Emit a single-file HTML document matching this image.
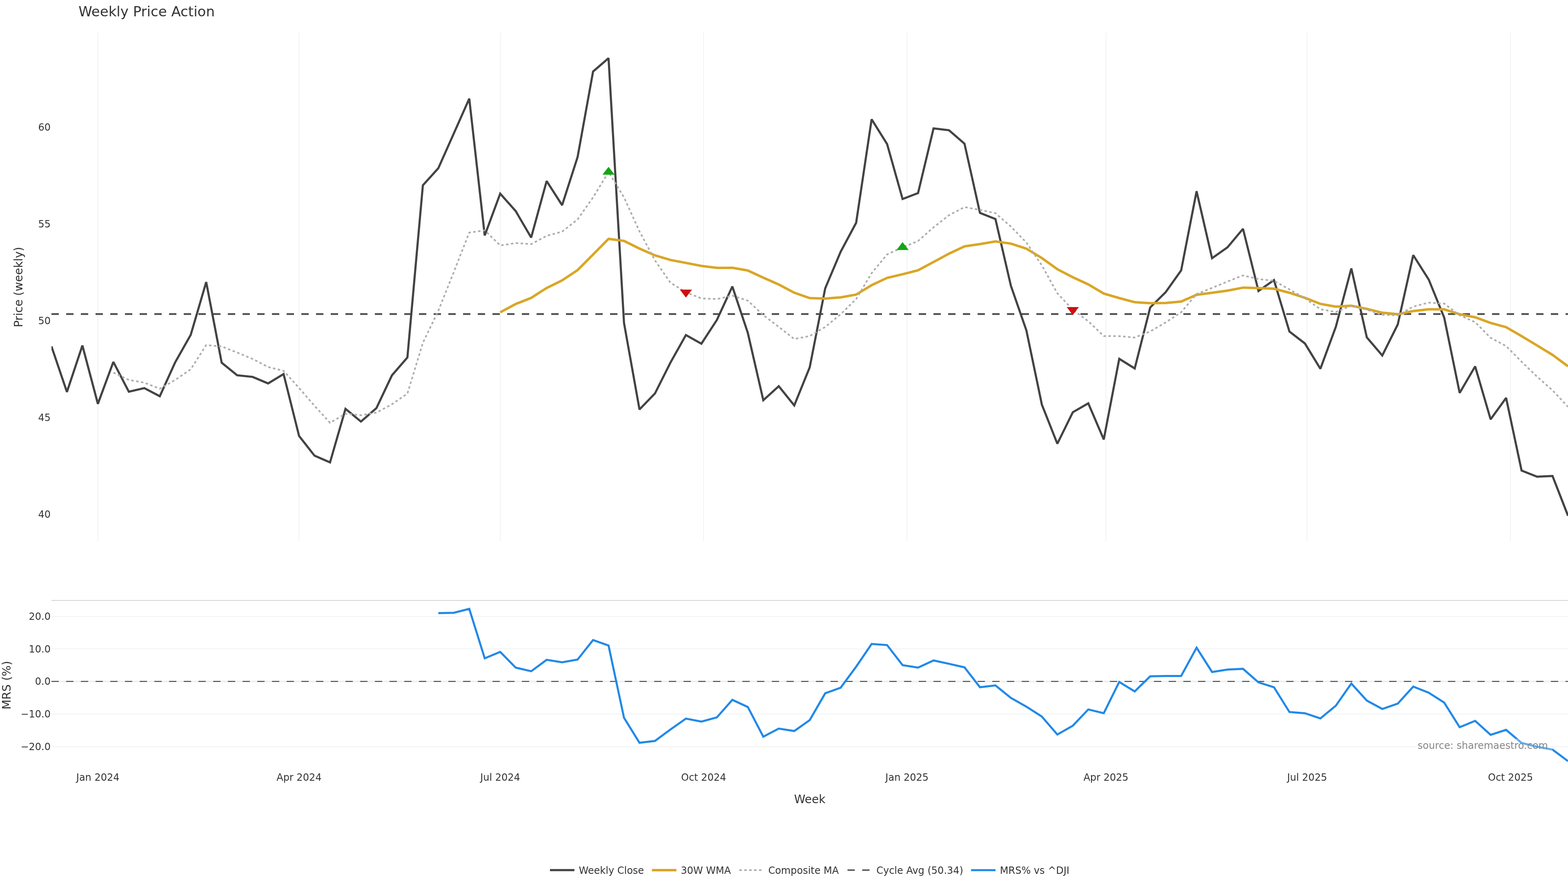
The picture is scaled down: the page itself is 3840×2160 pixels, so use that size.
<!DOCTYPE html>
<html lang="en"><head><meta charset="utf-8"><title>Weekly Price Action</title>
<style>
html,body{margin:0;padding:0;background:#fff;}
body{width:3840px;height:2160px;overflow:hidden;}
svg{display:block;}
text{font-family:"DejaVu Sans", "Liberation Sans", sans-serif;fill:#333333;white-space:pre;}
.ln{fill:none;stroke-linejoin:miter;stroke-miterlimit:2;stroke-linecap:butt;}
.t24{font-size:24px;}.t28{font-size:28px;}.t34{font-size:34px;}
</style></head><body>
<svg width="3840" height="2160" viewBox="0 0 3840 2160">
<rect x="0" y="0" width="3840" height="2160" fill="#ffffff"/>
<g stroke="#f0f1f2" stroke-width="1.8" fill="none">
<line x1="239.65" y1="80" x2="239.65" y2="1325"/>
<line x1="732.35" y1="80" x2="732.35" y2="1325"/>
<line x1="1225.05" y1="80" x2="1225.05" y2="1325"/>
<line x1="1723.1" y1="80" x2="1723.1" y2="1325"/>
<line x1="2221.2" y1="80" x2="2221.2" y2="1325"/>
<line x1="2708.5" y1="80" x2="2708.5" y2="1325"/>
<line x1="3201.1" y1="80" x2="3201.1" y2="1325"/>
<line x1="3699.1" y1="80" x2="3699.1" y2="1325"/>
</g>
<g stroke="#edeff2" fill="none">
<line x1="126" y1="1509.55" x2="3840" y2="1509.55" stroke-width="1.8"/>
<line x1="126" y1="1589.2" x2="3840" y2="1589.2" stroke-width="1.8"/>
<line x1="126" y1="1668.8" x2="3840" y2="1668.8" stroke-width="3.8"/>
<line x1="126" y1="1748.7" x2="3840" y2="1748.7" stroke-width="1.8"/>
<line x1="126" y1="1828.55" x2="3840" y2="1828.55" stroke-width="1.8"/>
</g>
<line x1="126" y1="1470.4" x2="3840" y2="1470.4" stroke="#d3d3d3" stroke-width="2"/>
<line x1="126" y1="769.1" x2="3840" y2="769.1" stroke="#4d4d4d" stroke-width="4.2" stroke-dasharray="18 18"/>
<line x1="126" y1="1668.8" x2="3840" y2="1668.8" stroke="#333333" stroke-width="2" stroke-dasharray="18 18"/>
<svg x="126" y="80" width="3714" height="1245" viewBox="126 80 3714 1245" overflow="hidden">
<path class="ln" d="M126.0,848.2L163.9,959.9L201.8,846.1L239.7,989.0L277.6,886.4L315.5,959.2L353.4,950.4L391.3,970.4L429.2,887.0L467.1,820.0L505.0,690.7L542.9,888.3L580.8,919.0L618.7,923.0L656.6,939.0L694.5,916.1L732.4,1067.6L770.3,1116.0L808.2,1132.5L846.1,1001.3L884.0,1032.4L921.9,999.4L959.8,919.3L997.7,875.5L1035.6,453.8L1073.4,412.0L1111.3,327.0L1149.2,241.6L1187.1,576.7L1225.0,474.2L1262.9,516.9L1300.8,581.7L1338.7,443.4L1376.6,502.5L1414.5,384.6L1452.4,175.2L1490.3,142.5L1528.2,791.0L1566.1,1002.7L1604.0,963.6L1641.9,888.0L1679.8,820.6L1717.7,841.7L1755.6,783.6L1793.5,701.6L1831.4,815.3L1869.3,980.2L1907.2,945.9L1945.1,993.0L1983.0,899.6L2020.9,706.2L2058.8,616.4L2096.7,545.6L2134.6,292.2L2172.5,352.9L2210.4,487.4L2248.3,472.9L2286.2,314.5L2324.1,319.0L2362.0,351.8L2399.9,521.4L2437.8,536.3L2475.7,700.0L2513.6,809.1L2551.5,990.9L2589.4,1086.6L2627.3,1009.6L2665.2,987.7L2703.1,1076.3L2741.0,878.7L2778.9,902.3L2816.8,753.0L2854.7,715.6L2892.6,662.2L2930.4,468.3L2968.3,632.3L3006.2,605.6L3044.1,560.3L3082.0,712.7L3119.9,685.9L3157.8,812.0L3195.7,841.1L3233.6,903.1L3271.5,800.1L3309.4,657.3L3347.3,826.2L3385.2,870.6L3423.1,794.5L3461.0,624.9L3498.9,684.6L3536.8,777.8L3574.7,962.3L3612.6,897.2L3650.5,1026.9L3688.4,974.4L3726.3,1152.3L3764.2,1167.3L3802.1,1165.7L3840.0,1263.0" stroke="#434343" stroke-width="5.2"/>
<path class="ln" d="M1225.0,764.8L1262.9,744.5L1300.8,729.6L1338.7,705.3L1376.6,686.7L1414.5,661.4L1452.4,623.4L1490.3,585.0L1528.2,590.0L1566.1,608.7L1604.0,625.5L1641.9,636.7L1679.8,643.9L1717.7,651.3L1755.6,656.1L1793.5,655.8L1831.4,662.5L1869.3,680.0L1907.2,696.8L1945.1,716.8L1983.0,730.0L2020.9,731.2L2058.8,728.2L2096.7,721.5L2134.6,698.4L2172.5,680.5L2210.4,671.6L2248.3,661.9L2286.2,641.7L2324.1,621.2L2362.0,603.4L2399.9,597.8L2437.8,591.4L2475.7,596.6L2513.6,609.0L2551.5,632.0L2589.4,659.3L2627.3,679.0L2665.2,696.5L2703.1,718.9L2741.0,730.0L2778.9,740.1L2816.8,742.4L2854.7,742.0L2892.6,738.6L2930.4,721.9L2968.3,717.0L3006.2,711.8L3044.1,704.4L3082.0,705.5L3119.9,707.0L3157.8,717.0L3195.7,729.3L3233.6,744.2L3271.5,750.9L3309.4,748.7L3347.3,756.5L3385.2,765.8L3423.1,769.6L3461.0,761.7L3498.9,757.6L3536.8,757.6L3574.7,769.6L3612.6,777.0L3650.5,790.8L3688.4,801.2L3726.3,823.2L3764.2,846.0L3802.1,869.1L3840.0,897.0" stroke="#d9a625" stroke-width="6"/>
<path class="ln" d="M277.6,912.5L315.5,930.4L353.4,937.1L391.3,952.0L429.2,930.4L467.1,904.4L505.0,845.0L542.9,848.4L580.8,863.4L618.7,879.0L656.6,898.8L694.5,908.0L732.4,950.2L770.3,993.8L808.2,1035.5L846.1,1013.2L884.0,1016.9L921.9,1010.6L959.8,990.0L997.7,964.0L1035.6,839.5L1073.4,761.2L1111.3,666.3L1149.2,569.6L1187.1,564.2L1225.0,601.2L1262.9,595.3L1300.8,597.9L1338.7,577.6L1376.6,567.3L1414.5,537.4L1452.4,483.4L1490.3,421.3L1528.2,483.4L1566.1,566.6L1604.0,637.7L1641.9,692.3L1679.8,715.8L1717.7,730.7L1755.6,732.5L1793.5,724.0L1831.4,736.3L1869.3,771.7L1907.2,800.6L1945.1,830.2L1983.0,822.9L2020.9,800.9L2058.8,769.5L2096.7,732.3L2134.6,669.0L2172.5,623.1L2210.4,605.7L2248.3,590.3L2286.2,556.8L2324.1,527.0L2362.0,507.2L2399.9,513.9L2437.8,522.1L2475.7,554.9L2513.6,594.0L2551.5,650.0L2589.4,718.3L2627.3,758.6L2665.2,786.7L2703.1,822.9L2741.0,823.2L2778.9,826.6L2816.8,811.6L2854.7,789.6L2892.6,764.7L2930.4,720.0L2968.3,705.1L3006.2,689.4L3044.1,674.5L3082.0,683.5L3119.9,687.6L3157.8,708.8L3195.7,730.4L3233.6,757.3L3271.5,764.0L3309.4,749.0L3347.3,758.4L3385.2,771.0L3423.1,772.2L3461.0,750.9L3498.9,741.2L3536.8,743.5L3574.7,772.2L3612.6,789.0L3650.5,827.3L3688.4,847.5L3726.3,885.8L3764.2,922.4L3802.1,955.9L3840.0,996.3" stroke="#adadad" stroke-width="4" stroke-dasharray="6 6"/>
<path d="M1475.4,427.8H1505.2L1490.3,408.4Z" fill="#12a612"/>
<path d="M2195.5,612.2H2225.3L2210.4,592.8Z" fill="#12a612"/>
<path d="M1664.9,709.3H1694.7L1679.8,728.7Z" fill="#cc1111"/>
<path d="M2612.4,752.1H2642.2L2627.3,771.5Z" fill="#cc1111"/>
</svg>
<svg x="126" y="1470" width="3714" height="417" viewBox="126 1470 3714 417" overflow="hidden">
<path class="ln" d="M1073.4,1501.5L1111.3,1500.7L1149.2,1491.1L1187.1,1612.2L1225.0,1596.5L1262.9,1634.9L1300.8,1643.9L1338.7,1615.9L1376.6,1621.9L1414.5,1615.2L1452.4,1567.5L1490.3,1580.9L1528.2,1757.9L1566.1,1819.0L1604.0,1814.5L1641.9,1786.6L1679.8,1759.8L1717.7,1767.2L1755.6,1756.8L1793.5,1713.9L1831.4,1731.4L1869.3,1804.1L1907.2,1784.4L1945.1,1790.3L1983.0,1763.5L2020.9,1697.9L2058.8,1684.1L2096.7,1632.7L2134.6,1577.1L2172.5,1579.8L2210.4,1629.0L2248.3,1634.9L2286.2,1617.4L2324.1,1625.6L2362.0,1634.2L2399.9,1683.0L2437.8,1678.5L2475.7,1709.1L2513.6,1730.7L2551.5,1754.9L2589.4,1798.9L2627.3,1777.3L2665.2,1737.4L2703.1,1746.7L2741.0,1670.0L2778.9,1693.4L2816.8,1656.2L2854.7,1655.4L2892.6,1655.4L2930.4,1586.1L2968.3,1645.7L3006.2,1639.8L3044.1,1637.9L3082.0,1671.1L3119.9,1683.0L3157.8,1743.7L3195.7,1746.7L3233.6,1759.4L3271.5,1728.1L3309.4,1674.0L3347.3,1715.8L3385.2,1736.3L3423.1,1723.2L3461.0,1681.5L3498.9,1696.4L3536.8,1720.6L3574.7,1781.0L3612.6,1765.3L3650.5,1799.6L3688.4,1787.3L3726.3,1819.4L3764.2,1828.7L3802.1,1835.8L3840.0,1864.1" stroke="#2189e7" stroke-width="5"/>
</svg>
<text class="t34" x="192.2" y="39.8">Weekly Price Action</text>
<text class="t24" x="124" y="319.5" text-anchor="end">60</text>
<text class="t24" x="124" y="557.0" text-anchor="end">55</text>
<text class="t24" x="124" y="793.8" text-anchor="end">50</text>
<text class="t24" x="124" y="1030.6" text-anchor="end">45</text>
<text class="t24" x="124" y="1267.5" text-anchor="end">40</text>
<text class="t24" x="124" y="1518.2" text-anchor="end">20.0</text>
<text class="t24" x="124" y="1597.6" text-anchor="end">10.0</text>
<text class="t24" x="124" y="1676.9" text-anchor="end">0.0</text>
<text class="t24" x="124" y="1756.6" text-anchor="end">−10.0</text>
<text class="t24" x="124" y="1836.5" text-anchor="end">−20.0</text>
<text class="t24" x="239.65" y="1912.0" text-anchor="middle">Jan 2024</text>
<text class="t24" x="732.35" y="1912.0" text-anchor="middle">Apr 2024</text>
<text class="t24" x="1225.05" y="1912.0" text-anchor="middle">Jul 2024</text>
<text class="t24" x="1723.1" y="1912.0" text-anchor="middle">Oct 2024</text>
<text class="t24" x="2221.2" y="1912.0" text-anchor="middle">Jan 2025</text>
<text class="t24" x="2708.5" y="1912.0" text-anchor="middle">Apr 2025</text>
<text class="t24" x="3201.1" y="1912.0" text-anchor="middle">Jul 2025</text>
<text class="t24" x="3699.1" y="1912.0" text-anchor="middle">Oct 2025</text>
<text class="t28" x="1983" y="1966.6" text-anchor="middle">Week</text>
<text class="t28" transform="translate(54.8,703.1) rotate(-90)" text-anchor="middle">Price (weekly)</text>
<text class="t28" transform="translate(26.1,1678) rotate(-90)" text-anchor="middle">MRS (%)</text>
<rect x="3460" y="1809" width="342" height="34" fill="#ffffff" fill-opacity="0.3"/>
<text class="t24" x="3791.0" y="1834.0" text-anchor="end" style="fill:#878787">source: sharemaestro.com</text>
<line x1="1346.8" y1="2130.9" x2="1406.8" y2="2130.9" stroke="#434343" stroke-width="5.2"/>
<text class="t24" x="1417.5" y="2139.6">Weekly Close</text>
<line x1="1596.5" y1="2130.9" x2="1656.5" y2="2130.9" stroke="#d9a625" stroke-width="6"/>
<text class="t24" x="1667.2" y="2139.6">30W WMA</text>
<line x1="1810.7" y1="2130.9" x2="1870.7" y2="2130.9" stroke="#adadad" stroke-width="4" stroke-dasharray="6 6"/>
<text class="t24" x="1881.4" y="2139.6">Composite MA</text>
<line x1="2075.5" y1="2130.9" x2="2135.5" y2="2130.9" stroke="#5c5c5c" stroke-width="3.8" stroke-dasharray="18 18"/>
<text class="t24" x="2146.2" y="2139.6">Cycle Avg (50.34)</text>
<line x1="2378.1" y1="2130.9" x2="2438.1" y2="2130.9" stroke="#2189e7" stroke-width="5"/>
<text class="t24" x="2448.8" y="2139.6">MRS% vs ^DJI</text>
</svg>
</body></html>
